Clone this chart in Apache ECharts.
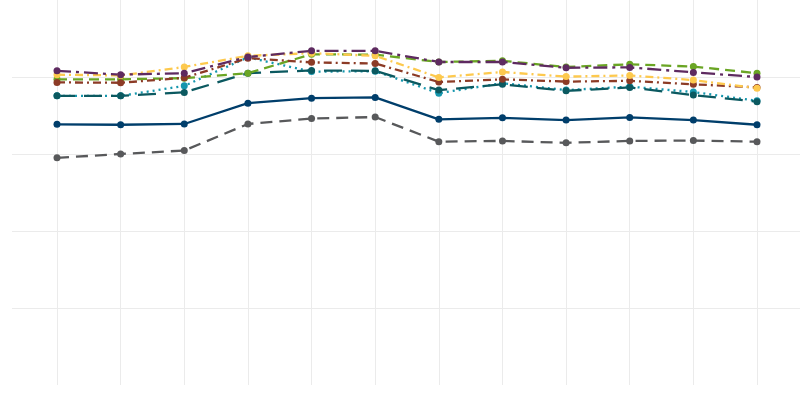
<!DOCTYPE html>
<html>
<head>
<meta charset="utf-8">
<script src="https://cdn.jsdelivr.net/npm/echarts@6/dist/echarts.min.js"></script>
<style>
  html, body { margin: 0; padding: 0; background: #fff; }
  #chart { width: 800px; height: 400px; }
</style>
</head>
<body>
<div id="chart"></div>
<script>
// 카테고리 (축 라벨은 그림에 없음)
var categories = ['1', '2', '3', '4', '5', '6', '7', '8', '9', '10', '11', '12'];

var navyData   = [67.7, 67.6, 67.8, 73.2, 74.5, 74.7, 69.0, 69.4, 68.8, 69.5, 68.8, 67.6];
var grayData   = [59.0, 60.0, 60.9, 67.8, 69.2, 69.6, 63.2, 63.4, 62.9, 63.4, 63.5, 63.2];
var cyanData   = [75.1, 75.1, 77.7, 85.1, 81.4, 81.5, 75.8, 78.4, 76.6, 77.5, 76.1, 73.8];
var tealData   = [75.1, 75.1, 76.0, 81.0, 81.7, 81.6, 76.6, 78.1, 76.4, 77.3, 75.3, 73.6];
var greenData  = [79.4, 79.4, 79.7, 81.0, 85.9, 85.8, 83.9, 84.2, 82.6, 83.3, 82.7, 81.0];
var brownData  = [78.6, 78.5, 79.8, 84.9, 83.8, 83.5, 78.7, 79.4, 78.8, 79.0, 78.1, 77.3];
var yellowData = [80.6, 80.4, 82.6, 85.5, 86.2, 85.5, 79.9, 81.3, 80.1, 80.4, 79.2, 77.1];
var purpleData = [81.6, 80.6, 81.0, 85.2, 86.8, 86.8, 83.9, 83.9, 82.4, 82.5, 81.2, 80.0];

var yMin = 0, yMax = 100, yStep = 20;

function lineSeries(name, data, color, dash) {
    return {
        name: name,
        type: 'line',
        xAxisIndex: 1,
        yAxisIndex: 1,
        data: data,
        symbol: 'circle',
        symbolSize: 7,
        itemStyle: { color: color },
        lineStyle: { color: color, width: 2.3, type: dash },
        silent: true
    };
}

var myChart = echarts.init(document.getElementById('chart'));
var option = {
    animation: false,
    grid: [
        { left: 12, right: 0, top: 0, height: 385 },   // 가로 격자선용
        { left: 57, right: 43, top: 0, height: 385 }   // 데이터용
    ],
    xAxis: [
        { gridIndex: 0, type: 'value', show: false },
        {
            gridIndex: 1,
            type: 'category',
            boundaryGap: false,
            data: categories,
            axisLine: { show: false },
            axisTick: { show: false },
            axisLabel: { show: false },
            splitLine: { show: true, lineStyle: { color: '#ebebeb', width: 1 } }
        }
    ],
    yAxis: [
        {
            gridIndex: 0,
            type: 'value',
            min: yMin, max: yMax, interval: yStep,
            axisLine: { show: false },
            axisTick: { show: false },
            axisLabel: { show: false },
            splitLine: {
                show: true, showMinLine: false, showMaxLine: false,
                lineStyle: { color: '#ebebeb', width: 1 }
            }
        },
        {
            gridIndex: 1,
            type: 'value',
            min: yMin, max: yMax, interval: yStep,
            show: false,
            splitLine: { show: false }
        }
    ],
    series: [
        lineSeries('navy', navyData, '#003e6b', 'solid'),
        lineSeries('gray', grayData, '#58595b', [12, 7]),
        lineSeries('cyan', cyanData, '#1596ad', [2, 4]),
        lineSeries('teal', tealData, '#0b5960', [18, 9]),
        lineSeries('green', greenData, '#6aa524', [10, 6]),
        lineSeries('brown', brownData, '#8c3b26', [8, 4, 2, 4]),
        lineSeries('yellow', yellowData, '#fdc94e', [8, 4, 2, 4]),
        lineSeries('purple', purpleData, '#5e2a60', [14, 5, 3, 5])
    ]
};
myChart.setOption(option);
window.addEventListener('resize', myChart.resize);
</script>
</body>
</html>
